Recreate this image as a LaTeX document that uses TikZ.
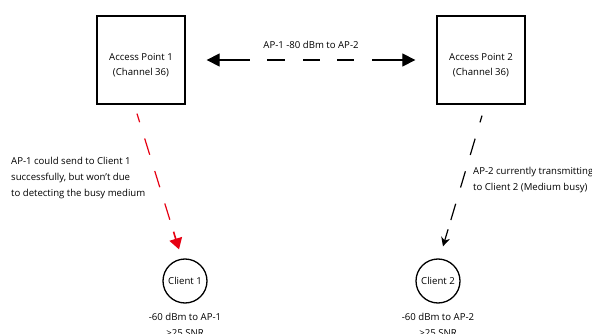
\documentclass[tikz,border=0pt]{standalone}
\usepackage{fontspec}
\setmainfont{Open Sans}
\usetikzlibrary{arrows.meta,calc}
\definecolor{myred}{RGB}{230,0,18}
\begin{document}
\begin{tikzpicture}[x=1pt,y=-1pt,
  lbl/.style={font=\fontsize{9.6}{16}\selectfont, inner sep=0pt},
  apbox/.style={draw, line width=1.3pt, minimum size=88pt, inner sep=0pt, align=center, font=\fontsize{9.6}{15}\selectfont},
  client/.style={draw, circle, line width=1.3pt, minimum size=44pt, inner sep=0pt, font=\fontsize{9.6}{15}\selectfont},
  link/.style={line width=1.2pt}]
\useasboundingbox (0,0) rectangle (592,334);
\node[apbox] (ap1) at (141,60) {\rule{0pt}{18pt}Access Point 1\\(Channel 36)};
\node[apbox] (ap2) at (481,60) {\rule{0pt}{18pt}Access Point 2\\(Channel 36)};
\node[client] (c1) at (185,281) {Client 1};
\node[client] (c2) at (438,281) {Client 2};
\coordinate (r0) at ([shift={(-4,9)}]ap1.south);
\coordinate (r1) at ([shift={(-6,-9)}]c1.north);
\coordinate (b0) at ([shift={(1,11)}]ap2.south);
\coordinate (b1) at ([shift={(5,-12)}]c2.north);
\draw[link, {Triangle[length=13pt,width=13pt]}-{Triangle[length=13pt,width=13pt]},
  dash pattern=on 31pt off 17pt on 18pt off 18pt on 17pt off 17pt on 17pt off 18pt on 31pt off 100pt]
  ([xshift=21]ap1.east) -- ([xshift=-21]ap2.west)
  node[lbl, midway, yshift=15] (lk) {AP-1 -80 dBm to AP-2};
\draw[link, myred, dash pattern=on 17pt off 17pt, dash phase=8pt] (r0) -- ($(r0)!0.86!(r1)$);
\draw[myred, line width=1.6pt, -{Triangle[length=11pt,width=13pt,fill=myred]}]
  ($(r0)!0.87!(r1)$) -- (r1);
\draw[link, dash pattern=on 17pt off 17pt, dash phase=10pt] (b0) -- ($(b0)!0.86!(b1)$);
\draw[link, -{Stealth[length=9pt,width=9pt]}] ($(b0)!0.87!(b1)$) -- (b1);
\node[lbl, anchor=west, align=left] (t1) at (11,178) {AP-1 could send to Client 1\\successfully, but won't due\\to detecting the busy medium};
\node[lbl, anchor=west, align=left] (t2) at (473,180) {AP-2 currently transmitting\\to Client 2 (Medium busy)};
\node[lbl, align=center, anchor=north] (s1) at ([yshift=-9]c1.south) {-60 dBm to AP-1\\>25 SNR};
\node[lbl, align=center, anchor=north] (s2) at ([yshift=-9]c2.south) {-60 dBm to AP-2\\>25 SNR};
\end{tikzpicture}
\end{document}
